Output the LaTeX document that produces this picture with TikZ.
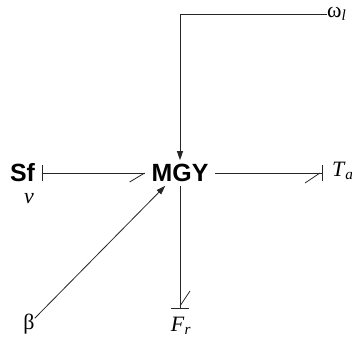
\documentclass[tikz,border=0pt]{standalone}
\usepackage{fontspec}
\setmainfont{Liberation Serif}
\newfontfamily\hvfont{Liberation Sans}
\usepackage{tikz}
\usetikzlibrary{arrows.meta,positioning,calc}

\tikzset{
  elem/.style={inner sep=0pt, font=\hvfont\bfseries\fontsize{25}{25}\selectfont},
  lbl/.style={inner sep=0pt, font=\fontsize{22}{22}\selectfont},
  bond/.style={line width=0.8bp, draw=black!85},
  sig/.style={bond, -{Triangle[length=9bp,width=6bp]}},
}

\begin{document}
\begin{tikzpicture}[x=1bp,y=-1bp]
    \useasboundingbox (0,0) rectangle (352,342);
    % elements
    \node[elem, outer sep=7bp] (sf) at (22.5,173) {Sf};
    \node[lbl] (nu) at (29,199) {\textit{ν}};
    \node[elem, outer xsep=7bp, outer ysep=4bp] (mgy) at (180,173) {MGY};
    \node[lbl, outer sep=10bp, anchor=west] (ta) at (322,171) {\textit{T}\textsubscript{\textit{a}}};
    \node[lbl, outer sep=9bp, anchor=north] (fr) at (181,308) {\textit{F}\textsubscript{\textit{r}}};
    \node[lbl] (beta) at (29,324) {β};
    \node[lbl, anchor=west] (om) at (327,14) {ω\textsubscript{\textit{l}}};
    % Sf -> MGY
    \draw[bond] (sf.east) -- (mgy.west);
    \draw[bond] (sf.east) ++(0,-8) -- ++(0,16);
    \draw[bond] (mgy.west) -- ++(-15,9);
    % MGY -> Ta
    \draw[bond] (mgy.east) -- (mgy.east -| ta.west);
    \draw[bond] (mgy.east -| ta.west) ++(0,-8) -- ++(0,16);
    \draw[bond] (mgy.east -| ta.west) ++(-2,0) -- ++(-15,10);
    % MGY -> Fr
    \draw[bond] (mgy.south) -- (mgy.south |- fr.north);
    \draw[bond] (mgy.south |- fr.north) ++(-9,0) -- ++(18,0);
    \draw[bond] (mgy.south |- fr.north) ++(0,-2) -- ++(10,-15);
    % modulation
    \draw[sig] (om.west) -| (mgy.north);
    \draw[sig] (beta.45) -- (mgy.-139);
\end{tikzpicture}
\end{document}
